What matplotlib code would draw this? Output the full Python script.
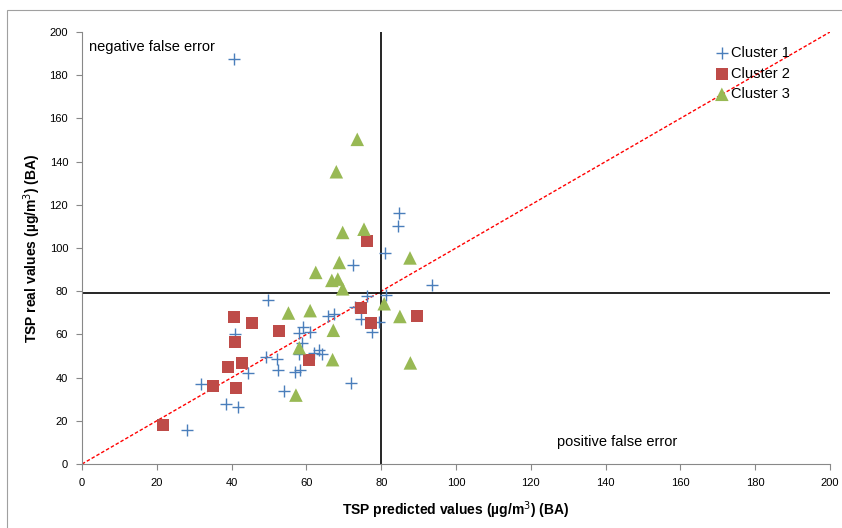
import matplotlib
matplotlib.use("Agg")
import matplotlib.pyplot as plt
from matplotlib.patches import Rectangle

plt.rcParams['font.family'] = ['Liberation Sans', 'DejaVu Sans']

# Cluster 1 (+)
c1_x = [40.6, 84.8, 84.6, 81.0, 72.5, 93.5, 76.3, 81.4, 49.8, 73.0, 67.5, 65.8,
        74.6, 79.3, 77.5, 59.2, 58.1, 61.0, 40.8, 58.9, 57.9, 63.5, 64.3, 62.0,
        49.3, 52.1, 52.5, 57.0, 58.4, 44.5, 31.7, 71.8, 54.1, 38.4, 41.6, 28.2]
c1_y = [187.5, 116.1, 110.2, 97.5, 92.3, 82.9, 77.6, 78.2, 75.9, 72.8, 69.4, 68.4,
        67.3, 65.8, 61.3, 63.5, 60.8, 60.9, 60.1, 55.9, 50.8, 52.9, 50.7, 51.5,
        49.7, 48.4, 43.5, 42.5, 43.5, 42.2, 37.0, 37.3, 34.0, 27.7, 26.3, 15.7]
# Cluster 2 (squares)
c2_x = [76.1, 40.7, 45.5, 52.8, 41.0, 39.1, 42.7, 35.1, 41.2, 60.6, 74.6, 77.3, 89.7, 21.7]
c2_y = [103.1, 68.2, 65.1, 61.5, 56.5, 45.0, 46.8, 36.1, 35.3, 48.0, 72.4, 65.1, 68.7, 17.9]
# Cluster 3 (triangles)
c3_x = [73.6, 68.0, 69.7, 75.4, 87.7, 68.8, 62.5, 66.8, 68.4, 69.7, 80.8, 55.2,
        61.0, 85.0, 67.2, 58.1, 67.0, 87.8, 57.2]
c3_y = [150.3, 135.3, 107.2, 108.7, 95.4, 93.3, 88.7, 85.0, 85.6, 81.1, 74.2, 69.9,
        71.0, 68.3, 61.9, 53.8, 48.3, 46.8, 31.9]

ticks = [0, 20, 40, 60, 80, 100, 120, 140, 160, 180, 200]
vline_x = 80
hline_y = 79

fig = plt.figure(figsize=(8.42, 5.28), dpi=100)
ax = fig.add_axes([82/842, 1-464/528, (830-82)/842, (464-32)/528])

# outer border
fig.patches.append(Rectangle((7/842, -0.5), 2, 1.5 - 10/528, transform=fig.transFigure,
                             fill=False, edgecolor='#a0a0a0', linewidth=0.8))

ax.plot([0, 200], [0, 200], color='#ff0000', linestyle=(0, (2.5, 1.5)), linewidth=1.0, zorder=1)
ax.axvline(vline_x, color='black', linewidth=1.2, zorder=2)
ax.axhline(hline_y, color='black', linewidth=1.2, zorder=2)

ax.scatter(c1_x, c1_y, marker='+', s=75, color='#4a7ebb', linewidths=1.0, label='Cluster 1', zorder=3)
ax.scatter(c2_x, c2_y, marker='s', s=75, color='#be4b48', edgecolors='none', label='Cluster 2', zorder=3)
ax.scatter(c3_x, c3_y, marker='^', s=95, color='#98b954', edgecolors='none', label='Cluster 3', zorder=3)

ax.set_xlim(0, 200)
ax.set_ylim(0, 200)
ax.set_xticks(ticks)
ax.set_yticks(ticks)
for s in ['top', 'right']:
    ax.spines[s].set_visible(False)
for s in ['left', 'bottom']:
    ax.spines[s].set_color('#888888')
    ax.spines[s].set_linewidth(0.8)
ax.tick_params(axis='both', colors='#888888', labelcolor='black', labelsize=8, length=4, width=0.8, pad=6)

ax.set_xlabel('TSP predicted values (\u00b5g/m$^3$) (BA)', fontsize=10, fontweight='bold', labelpad=8)
ax.set_ylabel('TSP real values (\u00b5g/m$^3$) (BA)', fontsize=10, fontweight='bold', labelpad=5)

ax.text(2, 193, 'negative false error', fontsize=10.5, va='center', ha='left')
ax.text(127, 10, 'positive false error', fontsize=10.5, va='center', ha='left')

leg = ax.legend(loc='upper left', bbox_to_anchor=(716/842, 1-46/528), bbox_transform=fig.transFigure,
                frameon=False, fontsize=10.5, handlelength=0.8, handletextpad=0.2,
                labelspacing=0.45, borderaxespad=0, borderpad=0)

fig.savefig('out.png', dpi=100)
